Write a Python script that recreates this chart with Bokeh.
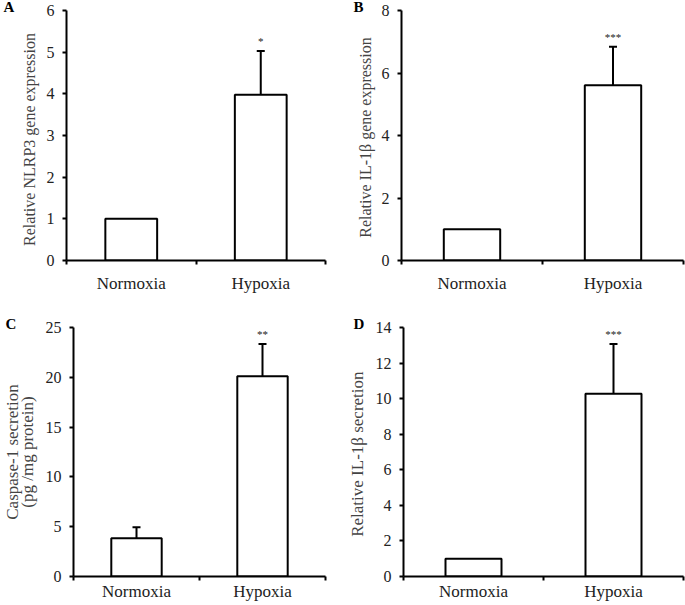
from bokeh.plotting import figure
from bokeh.models import (ColumnDataSource, Whisker, TeeHead, LabelSet,
                          FixedTicker, Range1d)
from bokeh.layouts import column, row
from bokeh.embed import file_html
from bokeh.resources import INLINE

# ---------------- data ----------------
categories = ["Normoxia", "Hypoxia"]
x_pos = [0.5, 1.5]
x_bounds = [0, 1, 2]

nlrp3_mean = [1.0, 3.98]
nlrp3_err = [0.0, 1.05]
nlrp3_sig = ["", "*"]
nlrp3_ticks = [0, 1, 2, 3, 4, 5, 6]

il1b_gene_mean = [1.0, 5.61]
il1b_gene_err = [0.0, 1.23]
il1b_gene_sig = ["", "***"]
il1b_gene_ticks = [0, 2, 4, 6, 8]

casp1_mean = [3.85, 20.1]
casp1_err = [1.1, 3.25]
casp1_sig = ["", "**"]
casp1_ticks = [0, 5, 10, 15, 20, 25]

il1b_sec_mean = [1.0, 10.27]
il1b_sec_err = [0.0, 2.8]
il1b_sec_sig = ["", "***"]
il1b_sec_ticks = [0, 2, 4, 6, 8, 10, 12, 14]

FONT = "Liberation Serif"


def make_panel(letter, ylabel, mean, err, sig, ticks, width, height,
               b_left, b_right, b_top, b_bottom, title_standoff, x_standoff,
               letter_dx, title_size="16px", title_lh=1.2):
    p = figure(width=width, height=height, output_backend="svg",
               toolbar_location=None, x_range=Range1d(0, 2),
               y_range=Range1d(0, ticks[-1]))
    p.min_border_left = b_left
    p.min_border_right = b_right
    p.min_border_top = b_top
    p.min_border_bottom = b_bottom
    p.outline_line_color = None
    p.grid.visible = False
    p.background_fill_color = "white"
    p.border_fill_color = "white"

    # panel letter as the figure title
    p.title.text = letter
    p.title.align = "left"
    p.title.offset = letter_dx
    p.title.standoff = -8
    p.title.text_line_height = 0.7
    p.title.text_font = FONT
    p.title.text_font_size = "15px"
    p.title.text_font_style = "bold"
    p.title.text_color = "black"

    p.vbar(x=x_pos, top=mean, width=0.4, bottom=0, fill_color="white",
           line_color="black", line_width=2)

    # error bars (upper only)
    ex = [x for x, e in zip(x_pos, err) if e > 0]
    elo = [m for m, e in zip(mean, err) if e > 0]
    ehi = [m + e for m, e in zip(mean, err) if e > 0]
    esrc = ColumnDataSource(dict(x=ex, lower=elo, upper=ehi))
    w = Whisker(source=esrc, base="x", lower="lower", upper="upper",
                line_width=2, line_color="black",
                lower_head=None,
                upper_head=TeeHead(size=8, line_width=2, line_color="black"))
    p.add_layout(w)

    # significance stars
    tops = [m + e for m, e in zip(mean, err)]
    ssrc = ColumnDataSource(dict(x=x_pos, y=tops, t=sig))
    stars = LabelSet(source=ssrc, x="x", y="y", text="t", text_align="center",
                     text_baseline="bottom", y_offset=4,
                     text_font=FONT, text_font_size="11px", text_color="#222222")
    p.add_layout(stars)

    # axes
    xa = p.xaxis[0]
    xa.ticker = FixedTicker(ticks=x_pos, minor_ticks=x_bounds)
    xa.major_label_overrides = dict(zip(x_pos, categories))
    xa.major_tick_out = 0
    xa.major_tick_in = 0
    xa.minor_tick_out = 4
    xa.minor_tick_in = 0
    xa.minor_tick_line_width = 2
    xa.minor_tick_line_color = "black"
    xa.axis_line_width = 2
    xa.axis_line_color = "black"
    xa.major_label_standoff = x_standoff
    xa.major_label_text_font = FONT
    xa.major_label_text_font_size = "17px"
    xa.major_label_text_color = "#222222"

    ya = p.yaxis[0]
    ya.ticker = FixedTicker(ticks=ticks)
    ya.major_tick_out = 4
    ya.major_tick_in = 0
    ya.minor_tick_out = 0
    ya.minor_tick_in = 0
    ya.major_tick_line_width = 2
    ya.major_tick_line_color = "black"
    ya.axis_line_width = 2
    ya.axis_line_color = "black"
    ya.major_label_standoff = 8
    ya.major_label_text_font = FONT
    ya.major_label_text_font_size = "16px"
    ya.major_label_text_color = "#222222"
    ya.axis_label = ylabel
    ya.axis_label_text_font = FONT
    ya.axis_label_text_font_size = title_size
    ya.axis_label_text_font_style = "normal"
    ya.axis_label_text_color = "#444444"
    ya.axis_label_text_line_height = title_lh
    ya.axis_label_standoff = title_standoff
    return p


pA = make_panel("A", "Relative  NLRP3 gene  expression", nlrp3_mean, nlrp3_err,
                nlrp3_sig, nlrp3_ticks, 340, 300, 66, 15, 6, 40, 6, 9, -63)
pB = make_panel("B", "Relative  IL-1\u03b2 gene expression", il1b_gene_mean,
                il1b_gene_err, il1b_gene_sig, il1b_gene_ticks, 345, 300,
                61, 2, 6, 40, 5, 9, -48)
pC = make_panel("C", "Caspase-1 secretion\n(pg /mg protein)", casp1_mean,
                casp1_err, casp1_sig, casp1_ticks, 340, 305, 71, 15, 27, 29,
                6, 1, -68, "17px", 0.75)
pD = make_panel("D", "Relative  IL-1\u03b2 secretion", il1b_sec_mean,
                il1b_sec_err, il1b_sec_sig, il1b_sec_ticks, 345, 305,
                63, 2, 27, 29, 6, 1, -50, "17px")

layout = column(row(pA, pB), row(pC, pD))
open("out.html", "w").write(file_html(layout, INLINE))
